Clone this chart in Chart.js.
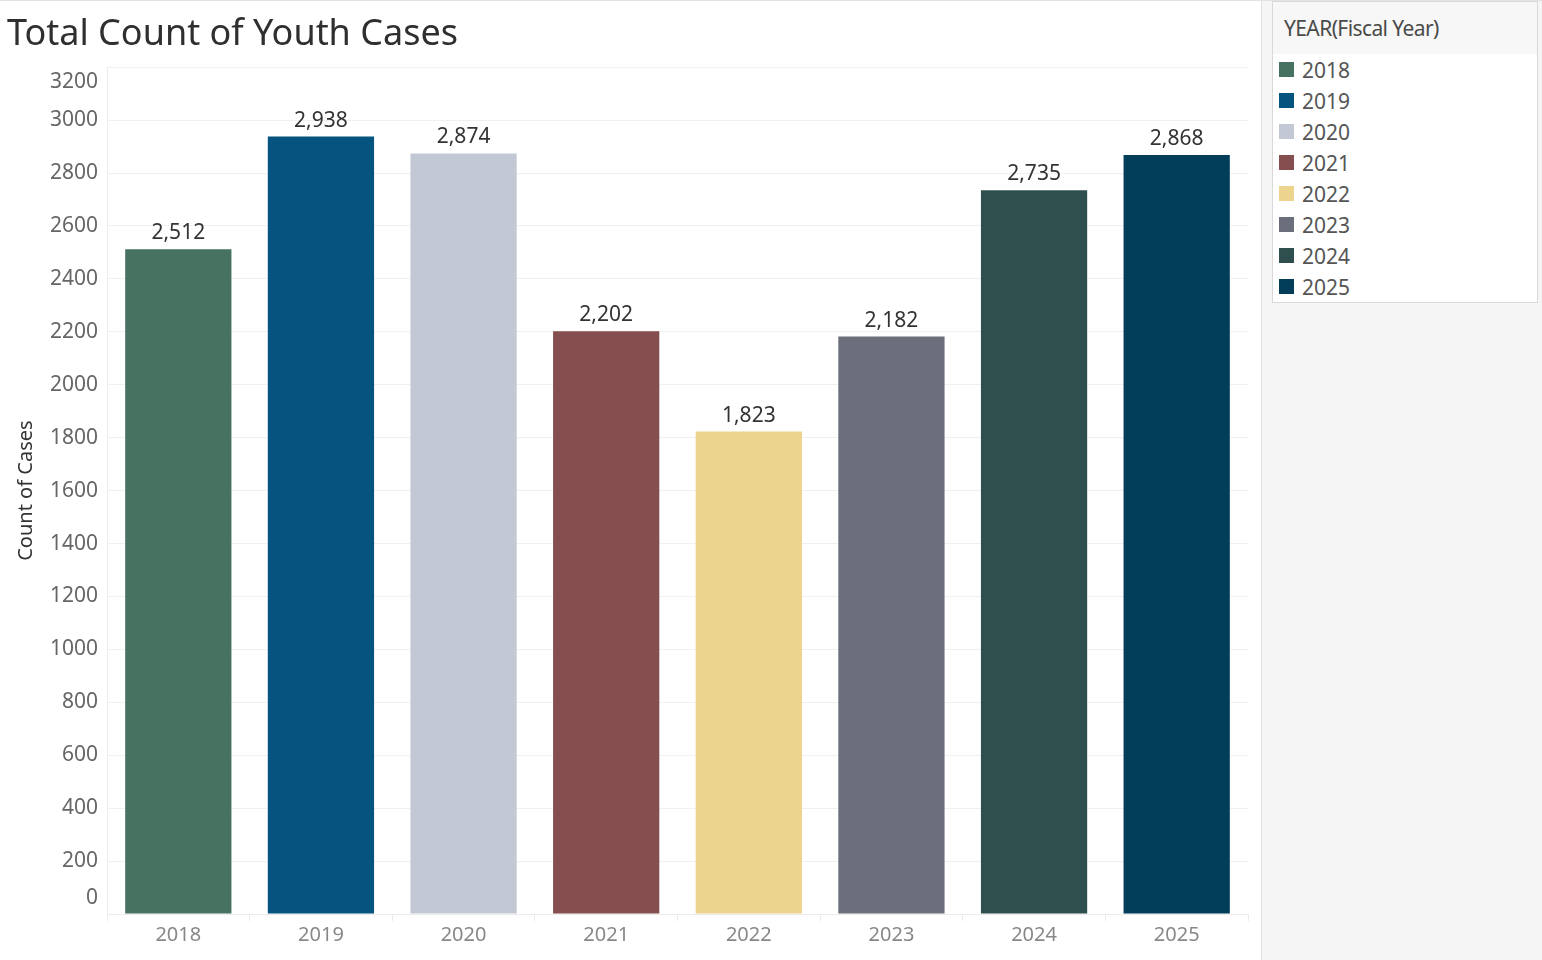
<!DOCTYPE html>
<html>
<head>
<meta charset="utf-8">
<script src="https://cdn.jsdelivr.net/npm/chart.js@4.4.1/dist/chart.umd.min.js"></script>
<style>
    html, body { margin: 0; padding: 0; background: #fff; }
    body { width: 1542px; height: 960px; position: relative; overflow: hidden; border-top: 1px solid #e2e2e2; box-sizing: border-box; }
    #chart-wrap { position: absolute; left: 0; top: 0; width: 1261px; height: 960px; }
    #side { position: absolute; left: 1261px; top: 0; width: 281px; height: 960px; background: #f5f5f5; border-left: 1px solid #e0e0e0; box-sizing: border-box; }
    #legend { position: absolute; left: 10px; top: 0; width: 266px; height: 302px; background: #fff; border: 1px solid #d9d9d9; box-sizing: border-box; font-family: 'Noto Sans', sans-serif; }
    #legend .head { height: 52px; background: #f7f7f7; color: #4a4a4a; font-size: 21px; line-height: 52px; padding-left: 11px; letter-spacing: -0.6px; }
    #legend .item { height: 31px; display: flex; align-items: center; color: #555; font-size: 21px; }
    #legend .sw { width: 15px; height: 15px; margin-left: 6px; margin-right: 8px; }
</style>
</head>
<body>
<div id="chart-wrap"><canvas id="youth-chart"></canvas></div>
<div id="side"><div id="legend"><div class="head">YEAR(Fiscal Year)</div></div></div>
<script>
// Total Count of Youth Cases
const years = ['2018', '2019', '2020', '2021', '2022', '2023', '2024', '2025'];
const caseCounts = [2512, 2938, 2874, 2202, 1823, 2182, 2735, 2868];
const yearColors = ['#477262', '#05547f', '#c3c9d4', '#864f4f', '#ecd48e', '#6b6e7b', '#2e4f4d', '#023d59'];
const yTicks = [0, 200, 400, 600, 800, 1000, 1200, 1400, 1600, 1800, 2000, 2200, 2400, 2600, 2800, 3000, 3200];

// html legend like the tableau side panel
const legend = document.getElementById('legend');
years.forEach(function(y, i) {
    const row = document.createElement('div');
    row.className = 'item';
    row.innerHTML = '<span class="sw" style="background:' + yearColors[i] + '"></span>' + y;
    legend.appendChild(row);
});

// y labels, pushed inside the plot at the edges
const yLabelPlugin = {
    id: 'yLabels',
    afterDraw(chart) {
        const s = chart.scales.y;
        const ctx = chart.ctx;
        ctx.save();
        ctx.font = '21px "Noto Sans"';
        ctx.fillStyle = '#666';
        ctx.textAlign = 'right';
        ctx.textBaseline = 'middle';
        yTicks.forEach(function(v) {
            let py = s.getPixelForValue(v);
            py = Math.max(s.top + 15, Math.min(s.bottom - 16, py));
            ctx.fillText(String(v), s.right - 9, py);
        });
        ctx.restore();
    }
};

const valueLabelPlugin = {
    id: 'valueLabels',
    afterDatasetsDraw(chart) {
        const ctx = chart.ctx;
        const meta = chart.getDatasetMeta(0);
        ctx.save();
        ctx.font = '21px "Noto Sans"';
        ctx.fillStyle = '#333';
        ctx.textAlign = 'center';
        ctx.textBaseline = 'middle';
        meta.data.forEach(function(bar, i) {
            ctx.fillText(caseCounts[i].toLocaleString('en-US'), bar.x, bar.y - 16);
        });
        ctx.restore();
    }
};

const ctx = document.getElementById('youth-chart').getContext('2d');
new Chart(ctx, {
    type: 'bar',
    data: {
        labels: years,
        datasets: [{
            label: 'Count of Cases',
            data: caseCounts,
            backgroundColor: yearColors,
            barPercentage: 0.745,
            categoryPercentage: 1.0
        }]
    },
    options: {
        responsive: true,
        maintainAspectRatio: false,
        animation: false,
        layout: { padding: { top: 0, right: 13, bottom: 0, left: 7 } },
        plugins: {
            legend: { display: false },
            tooltip: { enabled: false },
            title: {
                display: true,
                text: 'Total Count of Youth Cases',
                align: 'start',
                color: '#2f2f2f',
                font: { family: 'Noto Sans', size: 36, weight: '400' },
                padding: { top: 12, bottom: 11 }
            }
        },
        scales: {
            x: {
                afterFit: function(s) { s.height = 47; },
                grid: {
                    drawOnChartArea: false,
                    drawTicks: true,
                    tickLength: 7,
                    color: '#ebebeb'
                },
                border: { color: '#ebebeb' },
                ticks: {
                    color: '#888',
                    padding: 2,
                    font: { family: 'Noto Sans', size: 20 }
                }
            },
            y: {
                min: 0,
                max: 3200,
                afterFit: function(s) { s.width = 100; },
                grid: { color: '#f0f0f0', drawTicks: false },
                border: { color: '#ebebeb' },
                ticks: {
                    stepSize: 200,
                    color: 'rgba(0,0,0,0)',
                    font: { family: 'Noto Sans', size: 12 }
                },
                title: {
                    display: true,
                    text: 'Count of Cases',
                    color: '#333',
                    font: { family: 'Noto Sans', size: 20 },
                    padding: { top: 7, bottom: 0 }
                }
            }
        }
    },
    plugins: [yLabelPlugin, valueLabelPlugin]
});
</script>
</body>
</html>
